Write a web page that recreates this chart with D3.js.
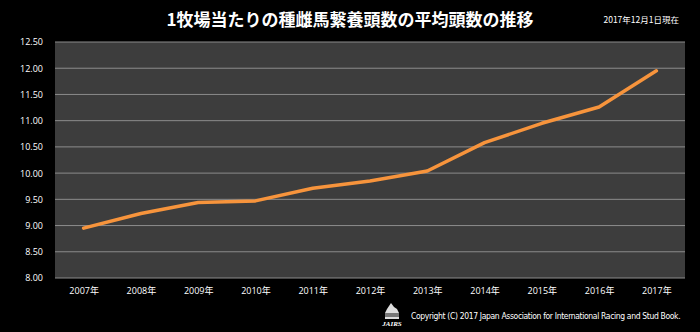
<!DOCTYPE html>
<html><head><meta charset="utf-8">
<script src="https://cdn.jsdelivr.net/npm/d3@7"></script>
<style>
body{margin:0;background:#000;}
svg{display:block;}
</style></head>
<body>
<svg id="c" width="700" height="332"></svg>
<script>
const years = ["2007年","2008年","2009年","2010年","2011年","2012年","2013年","2014年","2015年","2016年","2017年"];
const values = [8.95, 9.23, 9.44, 9.47, 9.71, 9.85, 10.04, 10.58, 10.95, 11.26, 11.95];
const yTicks = [8.0, 8.5, 9.0, 9.5, 10.0, 10.5, 11.0, 11.5, 12.0, 12.5];
const title = "1牧場当たりの種雌馬繋養頭数の平均頭数の推移";
const dateNote = "2017年12月1日現在";
const copyright = "Copyright (C) 2017  Japan Association for International Racing and Stud Book.";

const svg = d3.select("#c");
const W = 700, H = 332;
const m = {l:55, r:15, t:42, b:54};
svg.append("rect").attr("width",W).attr("height",H).attr("fill","#000");

const x = d3.scalePoint().domain(years).range([m.l, W-m.r]).padding(0.5);
const y = d3.scaleLinear().domain([8, 12.5]).range([H-m.b, m.t]);

svg.append("rect").attr("x",m.l).attr("y",m.t).attr("width",W-m.r-m.l).attr("height",H-m.b-m.t).attr("fill","#3d3d3d");

// gridlines
svg.append("g").selectAll("line").data(yTicks).join("line")
  .attr("x1",m.l).attr("x2",W-m.r)
  .attr("y1",d=>y(d)).attr("y2",d=>y(d))
  .attr("stroke","#8c8c8c").attr("stroke-width",1);

// y axis
const ya = svg.append("g").attr("transform",`translate(${m.l},0)`)
  .call(d3.axisLeft(y).tickValues(yTicks).tickFormat(d3.format(".2f")).tickSize(0).tickPadding(12));
ya.select(".domain").remove();
ya.selectAll("text").attr("fill","#fff").attr("font-size","9px").attr("font-family","'Open Sans', sans-serif");

// x axis
const xa = svg.append("g").attr("transform",`translate(0,${H-m.b})`)
  .call(d3.axisBottom(x).tickSize(0).tickPadding(10));
xa.select(".domain").remove();
xa.selectAll("text").attr("fill","#fff").attr("font-size","9px").attr("font-family","'Open Sans','Noto Sans CJK JP', sans-serif");

// line
const line = d3.line().x((d,i)=>x(years[i])).y(d=>y(d));
svg.append("path").datum(values).attr("d",line)
  .attr("fill","none").attr("stroke","#f7943c").attr("stroke-width",3.5)
  .attr("stroke-linejoin","round").attr("stroke-linecap","round");

// title
svg.append("text").attr("x",350).attr("y",26).attr("text-anchor","middle")
  .attr("fill","#fff").attr("font-size","17px").attr("font-weight","bold")
  .attr("font-family","'Noto Sans CJK JP', sans-serif").text(title);

svg.append("text").attr("x",679).attr("y",23).attr("text-anchor","end")
  .attr("fill","#fff").attr("font-size","8.5px")
  .attr("font-family","'Noto Sans CJK JP', sans-serif").text(dateNote);

// copyright
svg.append("text").attr("x",411).attr("y",319)
  .attr("fill","#fff").attr("font-size","8.5px").attr("letter-spacing","-0.35px")
  .attr("font-family","'DejaVu Sans Condensed', 'DejaVu Sans', sans-serif")
  .text(copyright);

// logo
const lg = svg.append("g").attr("transform","translate(384,303)");
lg.append("path").attr("d","M7,0 L10,4 L13,6 L15,10 L15,16 L1,16 L1,10 L3,6 L5,3 Z").attr("fill","#ddd");
lg.append("rect").attr("x",1).attr("y",10).attr("width",14).attr("height",4).attr("fill","#777");
lg.append("text").attr("x",8).attr("y",23).attr("text-anchor","middle")
  .attr("fill","#fff").attr("font-size","7px").attr("font-style","italic").attr("font-weight","bold")
  .attr("font-family","'Liberation Serif', serif").text("JAIRS");
</script>
</body></html>
